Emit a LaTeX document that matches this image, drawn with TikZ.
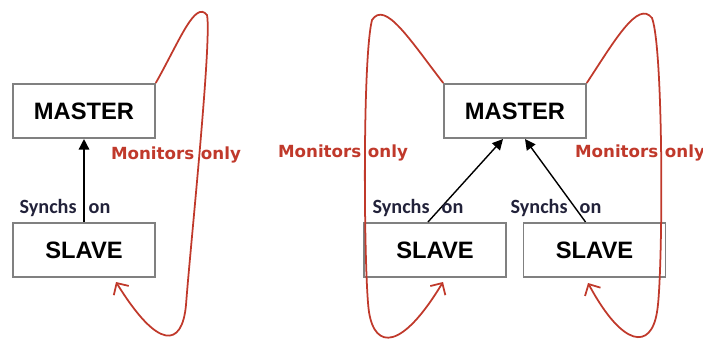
\documentclass[tikz,border=0pt]{standalone}
\usepackage{fontspec}
\setmainfont{Liberation Sans}
\newfontfamily\calfont{Carlito}
\newfontfamily\verfont{DejaVu Sans}
\usepackage{tikz}
\usetikzlibrary{arrows.meta, positioning, calc}
\usepackage{xcolor}
\definecolor{loopred}{HTML}{C0392B}
\definecolor{boxgray}{HTML}{808080}
\definecolor{synchcolor}{HTML}{22223A}

\begin{document}
\begin{tikzpicture}[x=0.02cm, y=-0.02cm,
    box/.style={draw=boxgray, line width=0.9pt, minimum width=2.84cm,
        minimum height=1.09cm, font=\fontsize{13.5}{15}\selectfont\bfseries},
    synch/.style={font=\calfont\fontsize{11.5}{13}\selectfont\bfseries,
        text=synchcolor},
    monitor/.style={font=\verfont\fontsize{9.5}{11}\selectfont\bfseries,
        text=loopred},
    syncharrow/.style={line width=0.8pt, -{Triangle[length=6pt,width=6pt]}},
    monloop/.style={loopred, line width=1pt,
        -{Straight Barb[length=5pt,width=10pt]}}]
    \useasboundingbox (0,0) rectangle (703,341);

    % Single slave
    \node[box] (m1) at (84,111) {MASTER};
    \node[box] (s1) at (84,250) {SLAVE};
    \draw[syncharrow] (s1.north) -- (m1.south);
    \node[synch] (y1) at (65,208) {Synchs\hspace{0.6em}on};
    \coordinate (t1) at (116,282);
    \draw[monloop] (m1.north east) .. controls (180,40) and (195,0) .. (207,15)
        .. controls (212,40) and (190,250) .. (186,305)
        .. controls (182,348) and (158,350) .. (t1);
    \node[monitor] (l1) at (176,155) {Monitors\hspace{0.4em}only};

    % Two slaves
    \node[box] (m2) at (515,111) {MASTER};
    \node[box] (s2) at (435,250) {SLAVE};
    \node[box] (s3) at (594.5,250) {SLAVE};
    \draw[syncharrow] ([xshift=-0.14cm]s2.north) -- ([xshift=-0.24cm]m2.south);
    \draw[syncharrow] ([xshift=-0.18cm]s3.north) -- ([xshift=0.2cm]m2.south);
    \node[synch] (y2) at (418,208) {Synchs\hspace{0.6em}on};
    \node[synch] (y3) at (556,208) {Synchs\hspace{0.6em}on};
    \coordinate (t2) at (443,282);
    \coordinate (t3) at (588,283);
    \draw[monloop] (m2.north west) .. controls (410,40) and (385,0) .. (372,20)
        .. controls (362,60) and (364,280) .. (369,312)
        .. controls (375,350) and (402,350) .. (t2);
    \draw[monloop] (m2.north east) .. controls (615,40) and (638,0) .. (652,18)
        .. controls (664,50) and (663,280) .. (657,312)
        .. controls (651,350) and (623,348) .. (t3);
    \node[monitor] (l2) at (343,153) {Monitors\hspace{0.4em}only};
    \node[monitor] (l3) at (640,153) {Monitors\hspace{0.4em}only};
\end{tikzpicture}
\end{document}
